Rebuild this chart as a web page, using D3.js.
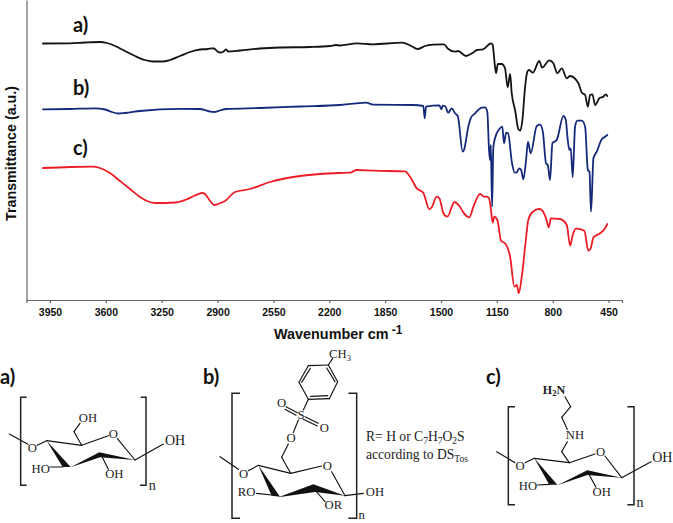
<!DOCTYPE html>
<html><head><meta charset="utf-8">
<script src="https://cdnjs.cloudflare.com/ajax/libs/d3/7.8.5/d3.min.js"></script>
<style>html,body{margin:0;padding:0;background:#fff}svg{display:block}</style>
</head><body><svg id="c" width="673" height="523"></svg>
<script>
const tickLabels=[3950,3600,3250,2900,2550,2200,1850,1500,1150,800,450];
const wnA=[3994,3825,3730,3637,3593,3542,3480,3417,3355,3304,3248,3198,3135,3073,3010,2960,2935,2922,2903,2885,2866,2853,2847,2834,2759,2634,2509,2321,2195,2158,2133,2026,1926,1744,1694,1644,1600,1550,1481,1456,1412,1393,1343,1305,1274,1237,1186,1176,1166,1155,1144,1119,1099,1082,1067,1057,1036,1015,1003,990,973,959,948,925,884,867,821,796,771,743,712,691,639,618,597,580,566,551,535,508,483,468,458];
const tA=[256.5,256.7,257.5,258,257,254,249,244,240,238.5,238.5,240,244,248,250.5,251,251.7,251.5,249,247.5,248,250,250.5,248.5,249.5,251.5,252.5,253,254,255,254.5,256.7,255.7,257.3,254.7,251,254,255.3,255.7,251.3,248.3,249,244,246.7,250,250.7,256.7,255,240,226.7,236,236,231.7,212.7,226,207,190,170.7,169.3,180,213.3,228.3,230,227.3,239,232.3,239.7,236.7,226.7,231.7,221.7,224,216.7,207.3,205,193.3,205,205.7,195,201.7,203.3,205.7,204];
const wnB=[3994,3825,3668,3605,3561,3524,3480,3386,3135,3010,2960,2922,2885,2847,2634,2383,2133,2028,1970,1924,1675,1611,1602,1594,1510,1498,1489,1475,1454,1433,1412,1395,1364,1356,1329,1314,1287,1245,1224,1210,1199,1193,1188,1180,1172,1151,1136,1116,1105,1092,1080,1055,1038,1025,1011,998,984,967,955,938,900,879,862,842,831,817,802,775,733,718,708,696,687,675,660,646,618,597,580,570,560,545,524,493,472,458];
const tB=[190.7,191,191.7,190.5,188,186.5,187,189,191.2,191,189,188,189.5,191,192,193.5,195,196.7,197.3,195.3,195,194,181.7,193.3,194.7,190.7,194.3,194,187.3,191.7,186.7,184,148.3,150,173.3,181.7,186.7,192.3,192.7,188.3,150,140,155,93.3,153.3,166.7,170.7,173.3,156.7,167.3,166.7,136.7,127.3,127.7,131.7,130,120.7,140,158.3,146.7,174,175.3,168.3,136.7,135,120,156.7,160,184,180,163.3,150,151.7,122.7,173.3,179.3,179.3,173.3,130,128.3,88.3,141.7,148.3,160.7,163.3,165];
const wnC=[3994,3825,3687,3637,3574,3511,3448,3386,3342,3292,3166,3104,3041,2997,2978,2947,2922,2897,2853,2790,2697,2571,2383,2258,2133,2070,2028,1924,1725,1694,1652,1611,1573,1558,1527,1510,1485,1460,1416,1385,1356,1322,1297,1255,1230,1213,1199,1188,1176,1166,1147,1124,1099,1067,1040,1025,1013,994,973,953,925,886,869,842,825,812,754,712,691,675,654,602,577,562,545,503,472,458];
const tC=[132,133,133.3,132,127,119,111,103,99,97,97.5,100,104.5,107,106,99,95,96,99,108,111,118,124,126,127,127.3,130,129.3,128.7,123.3,111.7,107.3,90.7,92.7,103.3,101.7,86.7,83.3,98,94,86.7,82.7,93.3,106,103.3,103.3,101.7,91.7,77.3,83.3,80,59.3,56.7,43.3,13.3,15,6.7,23.3,53.3,80,88.3,91,90,81.7,72.7,81.7,81,75,54.3,65,71.3,69.3,49.3,51.7,62.7,66.7,71.7,76];
const seriesNames=["a)","b)","c)"];
const seriesColors=["#141414","#14297a","#ee1c25"];
const seriesLabelY=[32,95,155];
const svg=d3.select("#c");
svg.append("rect").attr("width",673).attr("height",523).attr("fill","#fff");
const x=d3.scaleLinear().domain([4097,366]).range([26.5,622]);
const y=d3.scaleLinear().domain([0,300]).range([300,0]);
const axG=svg.append("g").attr("transform","translate(0,300)")
 .call(d3.axisBottom(x).tickValues(tickLabels).tickSizeOuter(0).tickSize(3).tickFormat(d3.format("d")));
axG.selectAll("path,line").attr("stroke","#666").attr("stroke-width",1.2);
axG.selectAll("text").attr("y",9).attr("fill","#111").style("font","bold 10.5px 'Liberation Sans'");
const ayG=svg.append("g").attr("transform","translate(26.5,0)")
 .call(d3.axisLeft(y).tickValues([]).tickSizeOuter(0));
ayG.selectAll("path").attr("stroke","#666").attr("stroke-width",1.2);
const line=d3.line().x(d=>x(d[0])).y(d=>y(d[1])).curve(d3.curveMonotoneX);
[[wnA,tA],[wnB,tB],[wnC,tC]].forEach((s,i)=>{
  svg.append("path").datum(d3.zip(s[0],s[1])).attr("d",line).attr("fill","none")
   .attr("stroke",seriesColors[i]).attr("stroke-width",1.8).attr("stroke-linejoin","round").attr("stroke-linecap","round");
  svg.append("text").attr("x",73).attr("y",seriesLabelY[i]).text(seriesNames[i])
   .style("font","bold 20px Lato").attr("fill","#111");
});
svg.append("text").attr("transform","translate(15.5,153.5) rotate(-90)").attr("text-anchor","middle")
 .style("font","bold 14.3px 'Liberation Sans'").attr("fill","#111").text("Transmittance (a.u.)");
const xl=svg.append("text").attr("x",274).attr("y",339).style("font","bold 14.4px 'Liberation Sans'").attr("fill","#111");
xl.append("tspan").text("Wavenumber cm");
xl.append("tspan").attr("dy",-5).attr("dx",3).style("font-size","12px").text("-1");

/* chemical structures: drawn in 3x crop coordinates */
function mol(ox,oy,name,lines,wedges,paths,texts){
  const g=svg.append("g").attr("transform",`translate(${ox},${oy}) scale(${1/3})`);
  g.selectAll("line").data(lines).join("line")
   .attr("x1",d=>d[0]).attr("y1",d=>d[1]).attr("x2",d=>d[2]).attr("y2",d=>d[3])
   .attr("stroke","#111").attr("stroke-width",3.4).attr("stroke-linecap","round");
  g.selectAll("polygon").data(wedges).join("polygon").attr("points",d=>d.join(" ")).attr("fill","#111");
  g.selectAll("path").data(paths).join("path").attr("d",d=>d).attr("fill","none").attr("stroke","#222").attr("stroke-width",4.5);
  texts.forEach(t=>{
    const fs=t[5]||38;
    const e=g.append("text").attr("x",t[0]).attr("y",t[1]).attr("text-anchor",t[3]||"middle")
      .style("font",(t[4]?"bold ":"")+fs+"px 'Liberation Serif'").attr("fill","#222");
    let sub=false;
    t[2].forEach(p=>{
      const s=Array.isArray(p);
      const ts=e.append("tspan").text(s?p[0]:p);
      if(s!==sub) ts.attr("dy",s?8:-8);
      if(s) ts.style("font-size","26px");
      sub=s;
    });
  });
  svg.append("text").attr("x",name[1]).attr("y",name[2]).text(name[0]).style("font","bold 20px Lato").attr("fill","#111");
}
mol(0,340,["a)",0,384],
 [[28,282,84,313],[112,316,140,302],[140,302,245,316],[245,316,325,287],[352,296,405,360],[405,360,490,312],[150,381,188,381],[305,348,325,388],[245,316,222,275],[222,275,240,250]],
 [[[140,302],[188,381],[212,381]],[[212,382],[298,337],[405,360],[300,352]]],
 ["M80,172H62V436H80","M422,172H438V436H420"],
 [[97,335,["O"]],[340,295,["O"]],[525,315,["OH"],"middle",false,42],[122,399,["HO"]],[343,415,["OH"]],[264,246,["OH"]],[457,449,["n"],"middle",false,42]]);
mol(220,340,["b)",203,384],
 [[0,350,55,388],[85,392,115,376],[115,376,212,400],[212,400,305,378],[335,395,375,467],[375,467,430,460],[110,460,155,465],[285,450,315,485],[212,400,185,352],[185,352,205,312],[220,278,235,240],[198,200,232,218],[195,208,228,226],[255,230,295,250],[250,238,292,258],[250,210,265,178],
 [265,178,328,176],[328,176,353,125],[353,125,325,75],[325,75,265,77],[265,77,237,127],[237,127,265,178],[272,169,323,167],[345,125,320,84],[245,127,271,85],[325,75,338,55]],
 [[[115,376],[155,467],[180,470]],[[175,472],[280,433],[375,467],[285,456]]],
 ["M60,160H36V535H60","M385,160H410V535H385"],
 [[71,413,["O"]],[322,391,["O"]],[465,468,["OH"]],[80,469,["RO"]],[340,508,["OR"]],[213,305,["O"]],[243,238,["S"]],[185,202,["O"]],[313,275,["O"]],[360,54,["CH",["3"]]],[425,538,["n"],"middle",false,38]]);
mol(450,340,["c)",486,384],
 [[140,335,195,368],[225,368,253,355],[253,355,358,368],[358,368,435,342],[465,348,515,413],[515,413,603,365],[262,435,298,433],[415,400,438,442],[358,368,335,335],[335,335,352,305],[352,268,335,232],[335,232,362,200],[362,200,345,170]],
 [[[253,355],[298,434],[322,434]],[[322,436],[412,391],[515,413],[412,405]]],
 ["M195,200H175V494H195","M532,200H552V494H532"],
 [[210,389,["O"]],[452,347,["O"]],[637,367,["OH"],"middle",false,42],[234,451,["HO"]],[455,469,["OH"]],[375,297,["NH"]],[312,161,["H",["2"],"N"],"middle",true,36],[570,500,["n"],"middle",false,42]]);
function rich(x0,yb,parts){
  const t=svg.append("text").attr("x",x0).attr("y",yb).style("font","13.6px 'Liberation Serif'").attr("fill","#222");
  let sub=false;
  parts.forEach(p=>{
    const s=Array.isArray(p);
    const ts=t.append("tspan").text(s?p[0]:p);
    if(s!==sub) ts.attr("dy",s?3:-3);
    if(s) ts.style("font-size","9.5px");
    sub=s;
  });
}
rich(366,441,["R= H or C",["7"],"H",["7"],"O",["2"],"S"]);
rich(366,459,["according to DS",["Tos"]]);
</script></body></html>
